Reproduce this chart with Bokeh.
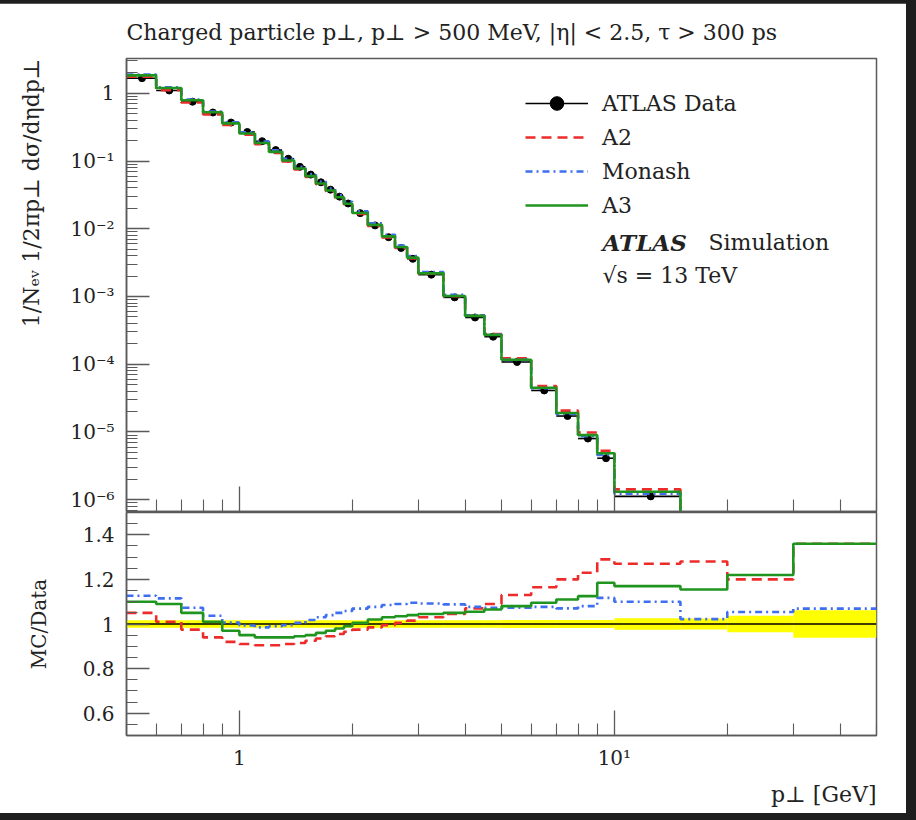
import math
from bokeh.plotting import figure
from bokeh.models import (FixedTicker, CustomJSTickFormatter, Legend, LegendItem,
                          Label, Range1d, Title)
from bokeh.layouts import column
from bokeh.embed import file_html
from bokeh.resources import INLINE

# ---------------- data ----------------
edges = [0.5, 0.6, 0.7, 0.8, 0.9, 1.0, 1.1, 1.2, 1.3, 1.4, 1.5, 1.6, 1.7, 1.8, 1.9, 2.0,
         2.2, 2.4, 2.6, 2.8, 3.0, 3.5, 4.0, 4.5, 5.0, 6.0, 7.0, 8.0, 9.0, 10.0,
         15.0, 20.0, 30.0, 50.0]

data_vals = [1.67, 1.10, 0.75, 0.52, 0.37, 0.268, 0.196, 0.145, 0.108, 0.082, 0.063,
             0.0485, 0.0378, 0.0298, 0.0236, 0.0170, 0.0112, 0.0075, 0.0052, 0.0036,
             0.0021, 0.00097, 0.00049, 0.000255, 0.000108, 4.1e-5, 1.72e-5, 8.0e-6,
             4.1e-6, 1.12e-6, 2.7e-7, 6.8e-8, 1.2e-8]

data_relerr = [0.017, 0.017, 0.017, 0.017, 0.017, 0.017, 0.017, 0.017, 0.017, 0.017, 0.017,
               0.017, 0.017, 0.017, 0.017, 0.017, 0.017, 0.017, 0.017, 0.017,
               0.017, 0.017, 0.017, 0.017, 0.018, 0.018, 0.018, 0.018,
               0.018, 0.026, 0.025, 0.037, 0.062]

ratio_A2 = [1.05, 1.01, 0.975, 0.94, 0.92, 0.91, 0.905, 0.905, 0.91, 0.915, 0.925,
            0.935, 0.945, 0.955, 0.965, 0.975, 0.985, 0.995, 1.005, 1.015,
            1.03, 1.045, 1.07, 1.09, 1.13, 1.165, 1.20, 1.23,
            1.29, 1.27, 1.28, 1.20, 1.36]

ratio_Monash = [1.127, 1.115, 1.073, 1.037, 1.007, 0.993, 0.985, 0.99, 0.995, 1.005, 1.018,
                1.03, 1.04, 1.05, 1.058, 1.069, 1.077, 1.085, 1.09, 1.095,
                1.092, 1.088, 1.077, 1.073, 1.073, 1.077, 1.070, 1.08,
                1.117, 1.10, 1.022, 1.054, 1.069]

ratio_A3 = [1.10, 1.09, 1.05, 1.01, 0.97, 0.95, 0.94, 0.94, 0.94, 0.945, 0.95,
            0.96, 0.97, 0.98, 0.99, 1.005, 1.02, 1.03, 1.035, 1.04,
            1.045, 1.05, 1.055, 1.065, 1.08, 1.095, 1.11, 1.125,
            1.185, 1.17, 1.155, 1.22, 1.36]

x_major = [1.0, 10.0]
x_minor = [0.5, 0.6, 0.7, 0.8, 0.9, 2, 3, 4, 5, 6, 7, 8, 9, 20, 30, 40, 50]
y_major = [1e-6, 1e-5, 1e-4, 1e-3, 1e-2, 1e-1, 1.0]
r_major = [0.6, 0.8, 1.0, 1.2, 1.4]

title_text = "Charged particle p\u22a5, p\u22a5 > 500 MeV, |\u03b7| < 2.5, \u03c4 > 300 ps"
ylab_top = "1/N\u2091\u1d65 1/2\u03c0p\u22a5 d\u03c3/d\u03b7dp\u22a5"
ylab_bot = "MC/Data"
xlab = "p\u22a5 [GeV]"

# ---------------- derived ----------------
lo = edges[:-1]
hi = edges[1:]
ctr = [(a + b) / 2 for a, b in zip(lo, hi)]
mc_A2 = [d * r for d, r in zip(data_vals, ratio_A2)]
mc_Monash = [d * r for d, r in zip(data_vals, ratio_Monash)]
mc_A3 = [d * r for d, r in zip(data_vals, ratio_A3)]
ones = [d / d for d in data_vals]

FONT = "DejaVu Serif"
RED = "#ee2b2b"
BLUE = "#3f6ff0"
GREEN = "#1f951f"
FRAME = "#5a5a5a"
TXT = "#222222"

exp_fmt = CustomJSTickFormatter(code="""
const e = Math.round(Math.log10(tick));
if (e === 0) return "1";
const m = {"-":"\u207b","0":"\u2070","1":"\u00b9","2":"\u00b2","3":"\u00b3","4":"\u2074",
           "5":"\u2075","6":"\u2076","7":"\u2077","8":"\u2078","9":"\u2079"};
return "10" + String(e).split("").map(c => m[c]).join("");
""")
lin_fmt = CustomJSTickFormatter(code="return String(Math.round(tick*10)/10);")
blank_fmt = CustomJSTickFormatter(code="return ' ';")


def style_axes(p):
    for ax in p.xaxis + p.yaxis:
        ax.axis_line_color = FRAME
        ax.axis_line_width = 1.5
        ax.major_tick_line_color = FRAME
        ax.minor_tick_line_color = FRAME
        ax.major_tick_line_width = 1.3
        ax.minor_tick_line_width = 1.1
        ax.major_tick_out = 0
        ax.minor_tick_out = 0
        ax.major_label_text_font = FONT
        ax.major_label_text_font_size = "20px"
        ax.major_label_text_color = TXT
    for ax in p.yaxis:
        ax.major_tick_in = 23
        ax.minor_tick_in = 11
        ax.major_label_standoff = 12
    for ax in p.xaxis:
        ax.major_tick_in = 25
        ax.minor_tick_in = 12
        ax.major_label_standoff = 10
    p.xgrid.visible = False
    p.ygrid.visible = False
    p.outline_line_color = FRAME
    p.outline_line_width = 1.5


def side_title(text, align, standoff, size="20px"):
    return Title(text=text, align=align, standoff=standoff, text_font=FONT,
                 text_font_size=size, text_font_style="normal", text_color=TXT)


# ---------------- top panel ----------------
top = figure(width=920, height=513, x_axis_type="log", y_axis_type="log",
             x_range=Range1d(0.5, 50), y_range=Range1d(6.7e-7, 3.26),
             toolbar_location=None, output_backend="svg",
             min_border_left=136, min_border_right=30, min_border_top=53,
             min_border_bottom=0, margin=(3, 6, 0, -10))
top.title.text = title_text
top.title.text_font = FONT
top.title.text_font_size = "22px"
top.title.text_font_style = "normal"
top.title.text_color = TXT
top.title.align = "left"
top.title.standoff = 28
top.add_layout(side_title(ylab_top, "right", 48, "22px"), "left")

style_axes(top)
y_minor = [m * 10.0 ** k for k in range(-7, 1) for m in range(2, 10)]
top.yaxis.ticker = FixedTicker(ticks=y_major, minor_ticks=y_minor)
top.yaxis.formatter = exp_fmt
top.xaxis.ticker = FixedTicker(ticks=x_major, minor_ticks=x_minor)
top.xaxis.formatter = blank_fmt
top.xaxis.major_label_standoff = 0
top.xaxis.major_label_text_font_size = "2px"

xerr = top.segment(x0=lo, x1=hi, y0=data_vals, y1=data_vals, line_color="black", line_width=1.6)
yerr = top.segment(x0=ctr, x1=ctr,
                   y0=[d * (1 - e) for d, e in zip(data_vals, data_relerr)],
                   y1=[d * (1 + e) for d, e in zip(data_vals, data_relerr)],
                   line_color="black", line_width=1.6)
pts = top.scatter(x=ctr, y=data_vals, size=7, color="black")
r_a2 = top.step(x=edges, y=mc_A2 + [mc_A2[-1]], mode="after", line_color=RED,
                line_width=2.6, line_dash="10 6")
r_mo = top.step(x=edges, y=mc_Monash + [mc_Monash[-1]], mode="after", line_color=BLUE,
                line_width=2.6, line_dash="7 4 2 4")
r_a3 = top.step(x=edges, y=mc_A3 + [mc_A3[-1]], mode="after", line_color=GREEN,
                line_width=2.6)

legend = Legend(items=[
    LegendItem(label="ATLAS Data", renderers=[xerr, pts]),
    LegendItem(label="A2", renderers=[r_a2]),
    LegendItem(label="Monash", renderers=[r_mo]),
    LegendItem(label="A3", renderers=[r_a3]),
], location=(399, 289), padding=0, spacing=0,
    glyph_width=63, glyph_height=34, label_height=34, label_standoff=14,
    label_text_font=FONT, label_text_font_size="22px", label_text_color=TXT,
    border_line_alpha=0, background_fill_alpha=0)
top.add_layout(legend)

top.add_layout(Label(x=476, y=269, x_units="screen", y_units="screen", text="ATLAS",
                     text_font=FONT, text_font_size="23px", text_font_style="bold italic",
                     text_color=TXT, text_baseline="middle"))
top.add_layout(Label(x=582, y=269, x_units="screen", y_units="screen", text="Simulation",
                     text_font=FONT, text_font_size="22px", text_color=TXT,
                     text_baseline="middle"))
top.add_layout(Label(x=476, y=236, x_units="screen", y_units="screen", text="\u221as = 13 TeV",
                     text_font=FONT, text_font_size="22px", text_color=TXT,
                     text_baseline="middle"))

# ---------------- ratio panel ----------------
bot = figure(width=920, height=301, x_axis_type="log",
             x_range=top.x_range, y_range=Range1d(0.5, 1.5),
             toolbar_location=None, output_backend="svg",
             min_border_left=136, min_border_right=30, min_border_top=0,
             min_border_bottom=75, margin=(-4, 6, 7, -10))
style_axes(bot)
bot.xaxis.ticker = FixedTicker(ticks=x_major, minor_ticks=x_minor)
bot.xaxis.formatter = exp_fmt
r_minor = [0.5 + 0.05 * i for i in range(21)]
bot.yaxis.ticker = FixedTicker(ticks=r_major, minor_ticks=r_minor)
bot.yaxis.formatter = lin_fmt
bot.yaxis.axis_label = ylab_bot
bot.yaxis.axis_label_standoff = 29
bot.yaxis.axis_label_text_font = FONT
bot.yaxis.axis_label_text_font_size = "20px"
bot.yaxis.axis_label_text_font_style = "normal"
bot.yaxis.axis_label_text_color = TXT
bot.add_layout(side_title(xlab, "right", 14, "22px"), "below")

bot.quad(left=lo, right=hi,
         bottom=[1 - e for e in data_relerr], top=[1 + e for e in data_relerr],
         fill_color="#ffff00", line_color=None)
bot.step(x=edges, y=ones + [ones[-1]], mode="after", line_color="black", line_width=1.5)
bot.step(x=edges, y=ratio_A2 + [ratio_A2[-1]], mode="after", line_color=RED,
         line_width=2.6, line_dash="10 6")
bot.step(x=edges, y=ratio_Monash + [ratio_Monash[-1]], mode="after", line_color=BLUE,
         line_width=2.6, line_dash="7 4 2 4")
bot.step(x=edges, y=ratio_A3 + [ratio_A3[-1]], mode="after", line_color=GREEN,
         line_width=2.6)

layout = column(top, bot, styles={"background-color": "#1e1e1e"})

open("out.html", "w").write(file_html(layout, INLINE))
